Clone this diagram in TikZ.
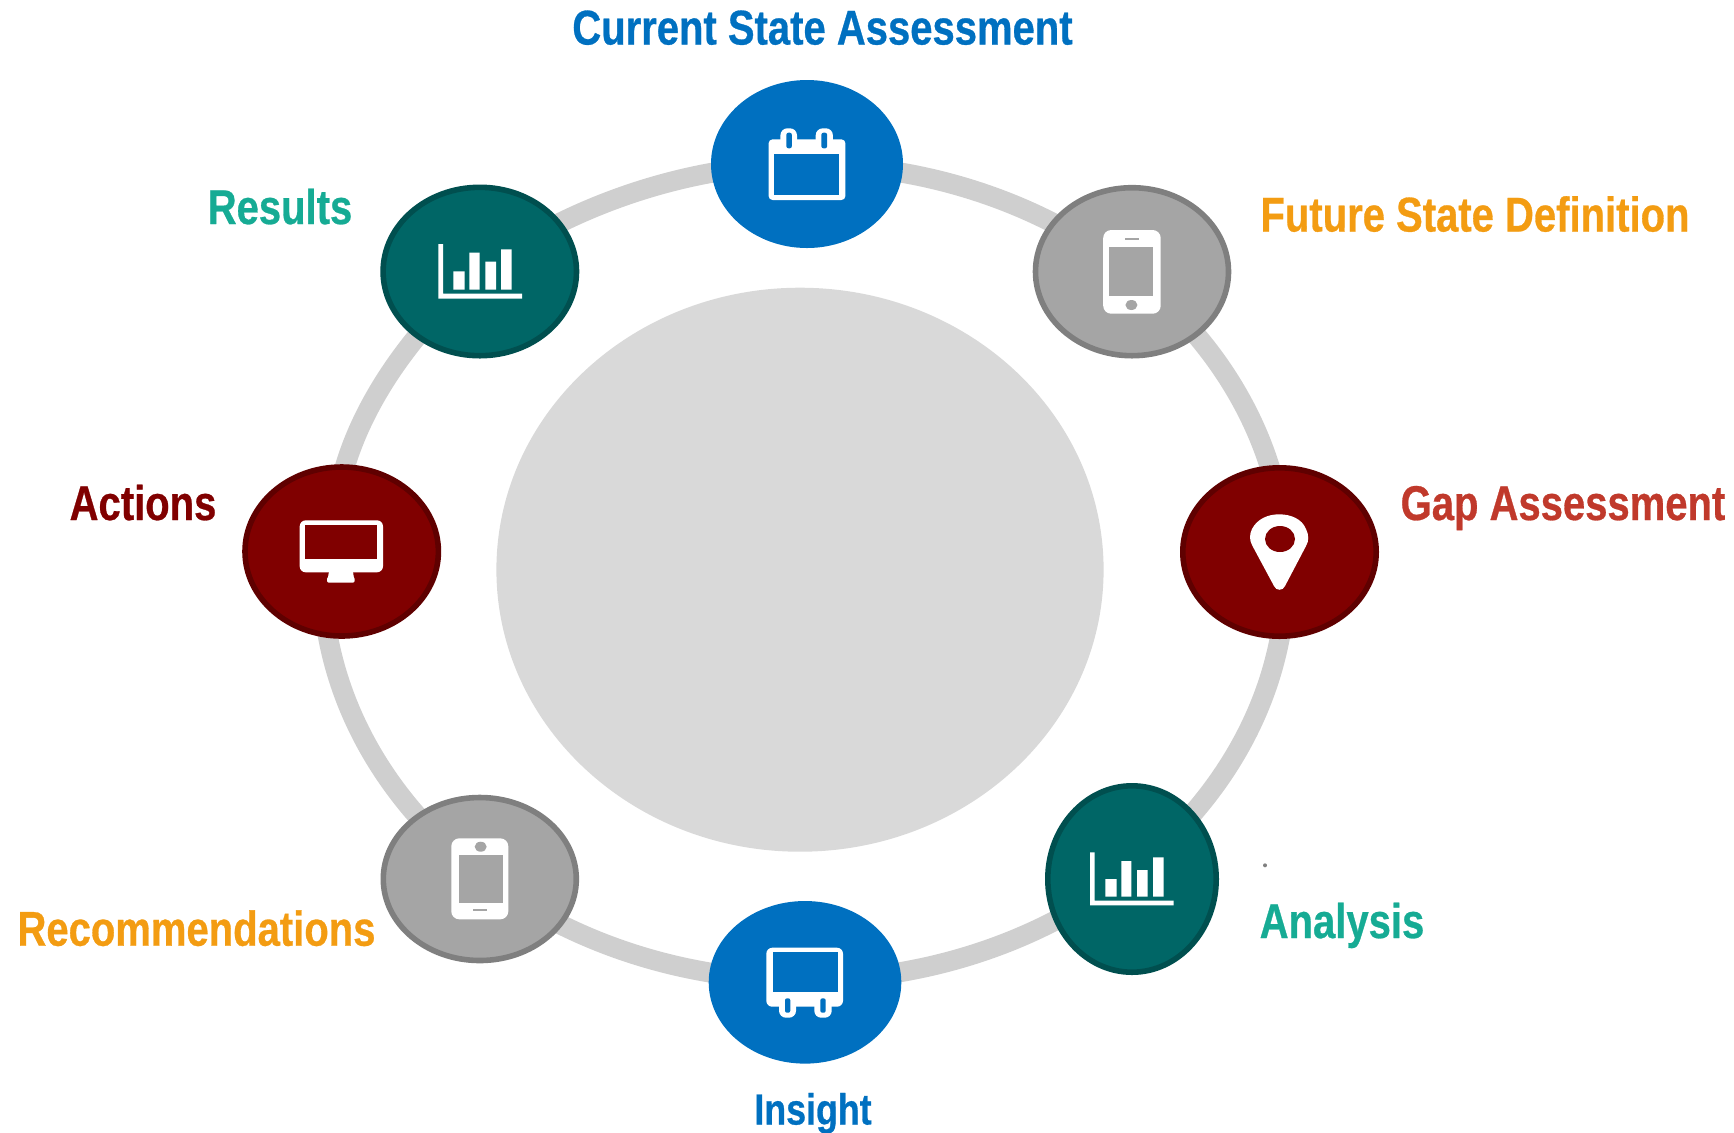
\documentclass[tikz,border=0pt]{standalone}
\usepackage{fontspec}
\setmainfont{Liberation Sans}[BoldFeatures={FakeStretch=0.82,FakeBold=0.6}]
\begin{document}
\definecolor{ringgray}{HTML}{CFCFCF}
\definecolor{innergray}{HTML}{D9D9D9}
\definecolor{blueN}{HTML}{0070C0}
\definecolor{grayN}{HTML}{A5A5A5}
\definecolor{grayB}{HTML}{7F7F7F}
\definecolor{redN}{HTML}{800000}
\definecolor{redB}{HTML}{5F0000}
\definecolor{tealN}{HTML}{006666}
\definecolor{tealB}{HTML}{004F4F}
\definecolor{orangeT}{HTML}{F39C12}
\definecolor{tealT}{HTML}{16AB94}
\definecolor{redT}{HTML}{C0392B}
\definecolor{darkredT}{HTML}{800000}
\tikzset{
  x=0.5pt,y=-0.5pt,
  lbl/.style={font=\fontsize{24.4}{26}\bfseries\selectfont,inner sep=0,outer sep=0,anchor=base},
  lblsmall/.style={lbl,font=\fontsize{21.8}{24}\bfseries\selectfont},
  ico/.style={fill=white,draw=none},
  ringline/.style={ringgray,line width=10pt},
  lowered/.style={yshift=-0.5pt},
}
\begin{tikzpicture}
\useasboundingbox (0,0) rectangle (1734,1132);
% ring: all but the upper-left stretch is one ellipse
\draw[ringline] (804,164.3) arc [start angle=90,end angle=-180,x radius=482,y radius=-408];
\draw[ringline] (322,572.3) -- (334,550) .. controls (330,465) and (375,365) .. (480,271);
\draw[ringline] (480,271) .. controls (570,205) and (690,164.3) .. (804,164.3);
\fill[innergray] (800,569.7) ellipse [x radius=303.6,y radius=282];
% stages
\fill[blueN] (807,164) ellipse [x radius=96,y radius=84];
\filldraw[fill=grayN,draw=grayB,line width=2.8pt] (1132,271.7) ellipse [x radius=96.5,y radius=84];
\filldraw[fill=redN,draw=redB,line width=2.8pt] (341.7,551.5) ellipse [x radius=96.7,y radius=84.5];
\filldraw[fill=tealN,draw=tealB,line width=2.8pt] (479.8,271.5) ellipse [x radius=96.7,y radius=84.2];
\begin{scope}[lowered]
\fill[blueN] (805,981.3) ellipse [x radius=96.3,y radius=81.3];
\filldraw[fill=grayN,draw=grayB,line width=2.8pt] (479.8,878) ellipse [x radius=96.5,y radius=81.5];
\filldraw[fill=redN,draw=redB,line width=2.8pt] (1279.5,551) ellipse [x radius=96.7,y radius=84.2];
\filldraw[fill=tealN,draw=tealB,line width=2.8pt] (1132,878) ellipse [x radius=84.2,y radius=93.2];
% pin
\fill[ico] (1274,585) -- (1252.5,545) .. controls (1249,539) and (1249.5,533) .. (1252,528)
  .. controls (1257,518) and (1268,513.3) .. (1279,513.3)
  .. controls (1291,513.3) and (1302,518) .. (1306,528)
  .. controls (1309,534) and (1309,540) .. (1306,545)
  -- (1285,585) .. controls (1283,590) and (1276,590) .. (1274,585) -- cycle;
\fill[redN] (1280,538) ellipse [x radius=15,y radius=13];
% bars, lower right
\fill[ico] (1090,851.3) rectangle (1094.7,904.3) (1090,899.7) rectangle (1173.7,904.3);
\fill[ico] (1105.3,878) rectangle (1116.7,895.7) (1121.3,860) rectangle (1131.3,895.7)
  (1137,869) rectangle (1147.7,895.7) (1153,856.3) rectangle (1163.7,895.7);
\fill[gray] (1265,864.3) circle [radius=2];
% screen with feet
\fill[ico,rounded corners=3pt] (766.3,946.7) rectangle (843,1005.7);
\fill[ico,rounded corners=3.5pt] (779,995) rectangle (796,1016.7);
\fill[ico,rounded corners=3.5pt] (814.3,995) rectangle (831.7,1016.7);
\fill[blueN] (773.3,951.3) rectangle (838,991);
\fill[blueN,rounded corners=1pt] (785,997.3) rectangle (790.3,1011.7);
\fill[blueN,rounded corners=1pt] (820.3,997.3) rectangle (825.7,1011.7);
% phone, home button on top
\fill[ico,rounded corners=4pt] (451.3,837.3) rectangle (508.3,918.3);
\fill[grayN] (459,854) rectangle (502.7,901.7);
\fill[grayN] (473.3,908.3) rectangle (486.7,909.8);
\fill[grayN] (480.7,845.7) ellipse [x radius=6,y radius=5];
\end{scope}
% calendar
\fill[ico,rounded corners=2pt] (768.6,139.3) rectangle (845.4,200);
\fill[ico,rounded corners=3.5pt] (780.4,128.3) rectangle (797,150);
\fill[ico,rounded corners=3.5pt] (815.7,128.3) rectangle (832.9,150);
\fill[blueN] (774.3,154.3) rectangle (838.6,195);
\fill[blueN,rounded corners=1pt] (786.4,132.7) rectangle (791.8,148.3);
\fill[blueN,rounded corners=1pt] (821.4,132.7) rectangle (827.1,148.3);
% phone, home button at the bottom
\fill[ico,rounded corners=4pt] (1103.2,230) rectangle (1160.7,313.7);
\fill[grayN] (1109.3,247) rectangle (1153.2,296.3);
\fill[grayN] (1125,238.3) rectangle (1139,239.8);
\fill[grayN] (1131.4,305) ellipse [x radius=6,y radius=5];
% monitor
\fill[ico,rounded corners=3pt] (299.7,520.3) rectangle (383,572.3);
\fill[redN] (305.3,525) rectangle (377.3,558.7);
\fill[ico] (329.3,570) -- (352.7,570) -- (354,578.3) -- (327.8,578.3) -- cycle;
\fill[ico,rounded corners=1pt] (327,577) rectangle (354.7,582.7);
% bars, upper left
\fill[ico] (438.3,244) rectangle (443,298.7) (438.3,293.7) rectangle (522,298.7);
\fill[ico] (453.3,271.3) rectangle (464.7,289.7) (469.3,252.7) rectangle (479.7,289.7)
  (485.3,261.7) rectangle (496,289.7) (501,249.3) rectangle (511.7,289.7);
% labels
\node[lbl,text=blueN] (l1) at (822.5,44.5) {Current State Assessment};
\node[lbl,text=orangeT] (l2) at (1475,231.5) {Future State Definition};
\node[lbl,text=redT] (l3) at (1563,520) {Gap Assessment};
\node[lbl,text=tealT] (l4) at (1342,938) {Analysis};
\node[lblsmall,text=blueN] (l5) at (813,1124.5) {Insight};
\node[lbl,text=orangeT] (l6) at (196.5,945.7) {Recommendations};
\node[lbl,text=darkredT] (l7) at (143,520) {Actions};
\node[lbl,text=tealT] (l8) at (280,224) {Results};
\end{tikzpicture}
\end{document}
